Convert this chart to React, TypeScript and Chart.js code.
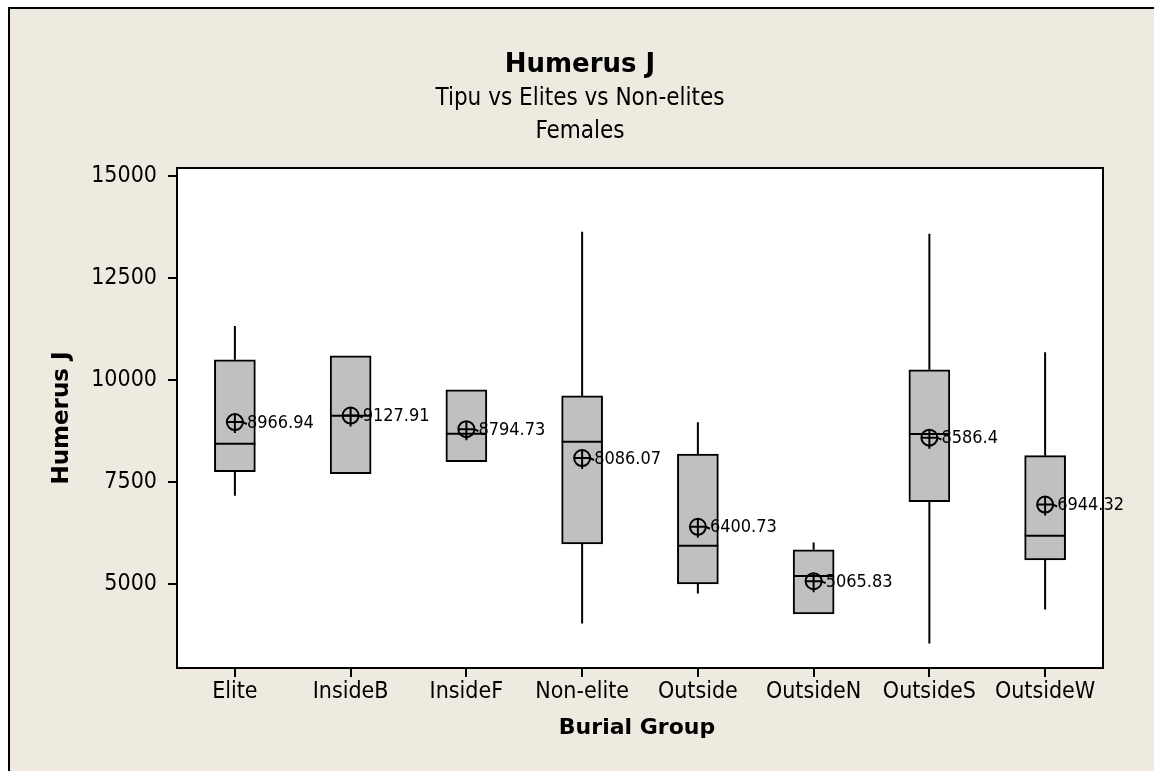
import React, { useEffect, useRef } from "react";
import { Chart, registerables } from "chart.js";

Chart.register(...registerables);

const categories = ["Elite", "InsideB", "InsideF", "Non-elite", "Outside", "OutsideN", "OutsideS", "OutsideW"];
const whiskerLow = [7160, 7702, 7996, 4027, 4764, 4263, 3536, 4371];
const q1 = [7751, 7702, 7996, 5982, 5000, 4263, 7014, 5589];
const median = [8438, 9126, 8684, 8488, 5933, 5196, 8677, 6179];
const q3 = [10494, 10592, 9757, 9610, 8185, 5835, 10249, 8144];
const whiskerHigh = [11324, 10592, 9757, 13638, 8964, 6017, 13588, 10683];
const means = [8966.94, 9127.91, 8794.73, 8086.07, 6400.73, 5065.83, 8586.4, 6944.32];
const meanLabels = ["8966.94", "9127.91", "8794.73", "8086.07", "6400.73", "5065.83", "8586.4", "6944.32"];
const yTicks = [5000, 7500, 10000, 12500, 15000];
const yMin = 2937;
const yMax = 15199;

const titleText = "Humerus J";
const subtitle1 = "Tipu vs Elites vs Non-elites";
const subtitle2 = "Females";
const xTitle = "Burial Group";
const yTitle = "Humerus J";

const FONT = "'DejaVu Sans Condensed', 'DejaVu Sans', sans-serif";
const BOLD_FONT = "'DejaVu Sans', sans-serif";
const BG = "#EEEAE0";
const BOX_W = 41;

export default function App() {
  const ref = useRef<HTMLCanvasElement | null>(null);

  useEffect(() => {
    const canvas = ref.current;
    if (!canvas) return;

    const framePlugin = {
      id: "frame",
      beforeDraw(chart: any) {
        const { ctx, chartArea } = chart;
        ctx.save();
        ctx.fillStyle = "#ffffff";
        ctx.fillRect(0, 0, chart.width, chart.height);
        ctx.fillStyle = BG;
        ctx.fillRect(8, 7, chart.width - 8, chart.height - 7);
        ctx.fillStyle = "#000";
        ctx.fillRect(8, 7, chart.width - 8, 2);
        ctx.fillRect(8, 7, 2, chart.height - 7);
        ctx.fillStyle = "#ffffff";
        ctx.fillRect(chartArea.left, chartArea.top, chartArea.right - chartArea.left, chartArea.bottom - chartArea.top);
        ctx.restore();
      },
      afterDatasetsDraw(chart: any) {
        const { ctx, scales } = chart;
        const xs = scales.x;
        const ys = scales.y;
        ctx.save();
        ctx.strokeStyle = "#000";
        ctx.lineWidth = 2;
        categories.forEach((_, i) => {
          const cx = xs.getPixelForValue(i);
          const pHigh = ys.getPixelForValue(whiskerHigh[i]);
          const pQ3 = ys.getPixelForValue(q3[i]);
          const pQ1 = ys.getPixelForValue(q1[i]);
          const pLow = ys.getPixelForValue(whiskerLow[i]);
          const pMed = ys.getPixelForValue(median[i]);
          ctx.beginPath();
          if (whiskerHigh[i] > q3[i]) {
            ctx.moveTo(cx, pHigh);
            ctx.lineTo(cx, pQ3);
          }
          if (whiskerLow[i] < q1[i]) {
            ctx.moveTo(cx, pQ1);
            ctx.lineTo(cx, pLow);
          }
          ctx.moveTo(cx - BOX_W / 2, pMed);
          ctx.lineTo(cx + BOX_W / 2, pMed);
          ctx.stroke();

          // mean symbol
          const my = ys.getPixelForValue(means[i]);
          ctx.beginPath();
          ctx.arc(cx, my, 8, 0, Math.PI * 2);
          ctx.stroke();
          ctx.beginPath();
          ctx.moveTo(cx - 8, my);
          ctx.lineTo(cx + 8, my);
          ctx.lineTo(cx + 12, my + 2);
          ctx.moveTo(cx, my - 8);
          ctx.lineTo(cx, my + 11);
          ctx.stroke();

          ctx.fillStyle = "#000";
          ctx.font = `18px ${FONT}`;
          ctx.textAlign = "left";
          ctx.textBaseline = "middle";
          ctx.fillText(meanLabels[i], cx + 12, my + 1);
        });
        ctx.restore();
      },
      afterDraw(chart: any) {
        const { ctx, chartArea } = chart;
        ctx.save();
        ctx.strokeStyle = "#000";
        ctx.lineWidth = 2;
        ctx.strokeRect(chartArea.left, chartArea.top, chartArea.right - chartArea.left, chartArea.bottom - chartArea.top);

        ctx.fillStyle = "#000";
        ctx.textAlign = "center";
        ctx.textBaseline = "alphabetic";
        ctx.font = `bold 26px ${BOLD_FONT}`;
        ctx.fillText(titleText, 580, 72);
        ctx.font = `24px ${FONT}`;
        ctx.fillText(subtitle1, 580, 105);
        ctx.fillText(subtitle2, 580, 138);

        ctx.font = `bold 22px ${BOLD_FONT}`;
        ctx.fillText(xTitle, 637, 734);

        ctx.font = `bold 23px ${BOLD_FONT}`;
        ctx.save();
        ctx.translate(68, (chartArea.top + chartArea.bottom) / 2);
        ctx.rotate(-Math.PI / 2);
        ctx.fillText(yTitle, 0, 0);
        ctx.restore();
        ctx.restore();
      },
    };

    const chart = new Chart(canvas, {
      type: "bar",
      data: {
        labels: categories,
        datasets: [
          {
            data: categories.map((_, i) => [q1[i], q3[i]]) as any,
            backgroundColor: "#C0C0C0",
            borderColor: "#000",
            borderWidth: 2,
            borderSkipped: false,
            barThickness: BOX_W,
          },
        ],
      },
      options: {
        responsive: false,
        devicePixelRatio: 1,
        animation: false,
        events: [],
        layout: { padding: { top: 168, right: 51, left: 0, bottom: 0 } },
        plugins: { legend: { display: false }, tooltip: { enabled: false }, title: { display: false } },
        scales: {
          x: {
            type: "category",
            offset: true,
            grid: { display: true, offset: false, drawOnChartArea: false, drawTicks: true, tickLength: 9, color: "#000", lineWidth: 2 },
            border: { display: true, color: "#000", width: 2 },
            ticks: { color: "#000", font: { family: FONT, size: 23 }, padding: 1, maxRotation: 0, autoSkip: false },
            afterFit: (s: any) => {
              s.height = 103;
            },
          },
          y: {
            type: "linear",
            min: yMin,
            max: yMax,
            afterBuildTicks: (s: any) => {
              s.ticks = yTicks.map((v) => ({ value: v }));
            },
            grid: { display: true, drawOnChartArea: false, drawTicks: true, tickLength: 9, color: "#000", lineWidth: 2 },
            border: { display: true, color: "#000", width: 2 },
            ticks: { color: "#000", font: { family: FONT, size: 23 }, padding: 11, callback: (v: any) => String(v) },
            afterFit: (s: any) => {
              s.width = 177;
            },
          },
        },
      },
      plugins: [framePlugin],
    });

    return () => chart.destroy();
  }, []);

  return (
    <canvas
      ref={ref}
      width={1154}
      height={771}
      style={{ position: "fixed", left: 0, top: 0, width: 1154, height: 771, display: "block" }}
    />
  );
}
